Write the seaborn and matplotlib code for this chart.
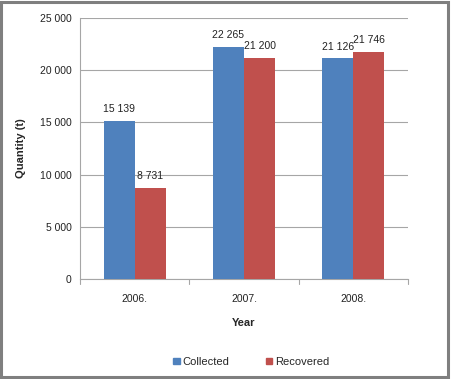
import matplotlib
matplotlib.use("Agg")
import matplotlib.pyplot as plt
import seaborn as sns
import pandas as pd
from matplotlib.patches import Rectangle

years = ["2006.", "2007.", "2008."]
collected = [15139, 22265, 21126]
recovered = [8731, 21200, 21746]
series_names = ["Collected", "Recovered"]
yticks = [0, 5000, 10000, 15000, 20000, 25000]

df = pd.DataFrame({
    "Year": years * 2,
    "Quantity": collected + recovered,
    "Series": [series_names[0]] * 3 + [series_names[1]] * 3,
})

sns.set_style("white")
plt.rcParams["font.family"] = ["Liberation Sans", "DejaVu Sans"]

fig = plt.figure(figsize=(4.51, 3.79), dpi=100)
ax = fig.add_axes([80/451, 1-279/379, 328/451, 261/379])

palette = {"Collected": "#4F81BD", "Recovered": "#C0504D"}
sns.barplot(data=df, x="Year", y="Quantity", hue="Series", palette=palette,
            width=0.57, ax=ax, saturation=1, legend=True, zorder=3,
            linewidth=0, edgecolor="none")

gridc = "#A6A6A6"
fmt = lambda v: f"{int(v):,}".replace(",", " ")
for cont in ax.containers:
    ax.bar_label(cont, labels=[fmt(b.get_height()) for b in cont], padding=5,
                 fontsize=7.5, color="#222222")

ax.set_ylim(0, 25000)
ax.set_xlim(-0.5, 2.5)
ax.set_yticks(yticks)
ax.set_yticklabels([fmt(v) for v in yticks], fontsize=7.5, color="#222222")
ax.tick_params(axis="x", labelsize=7.5, colors="#222222", length=0, pad=11)
ax.tick_params(axis="y", length=4, width=0.8, color=gridc, direction="out", pad=2)
ax.yaxis.grid(True, color=gridc, linewidth=0.8, zorder=0)
ax.set_axisbelow(True)
for s in ["top", "right"]:
    ax.spines[s].set_visible(False)
for s in ["left", "bottom"]:
    ax.spines[s].set_color(gridc)
    ax.spines[s].set_linewidth(0.8)
for xb in [-0.5, 0.5, 1.5, 2.5]:
    ax.plot([xb, xb], [0, -0.018], transform=ax.get_xaxis_transform(),
            color=gridc, lw=0.8, clip_on=False)

ax.set_xlabel("Year", fontsize=8, fontweight="bold", labelpad=10)
ax.set_ylabel("Quantity (t)", fontsize=8, fontweight="bold", labelpad=10)

ax.legend_.remove()
handles = [Rectangle((0, 0), 1, 1, color=palette[n]) for n in series_names]
fig.legend(handles, series_names, loc="center", bbox_to_anchor=(0.557, 1-362/379),
           ncol=2, frameon=False, fontsize=8, handlelength=0.55, handleheight=0.55,
           handletextpad=0.25, columnspacing=3.3)

fig.patches.append(Rectangle((0.003, 0.004), 0.991, 0.992, transform=fig.transFigure,
                             fill=False, edgecolor="#7f7f7f", linewidth=2.2))

fig.savefig("out.png", dpi=100)
